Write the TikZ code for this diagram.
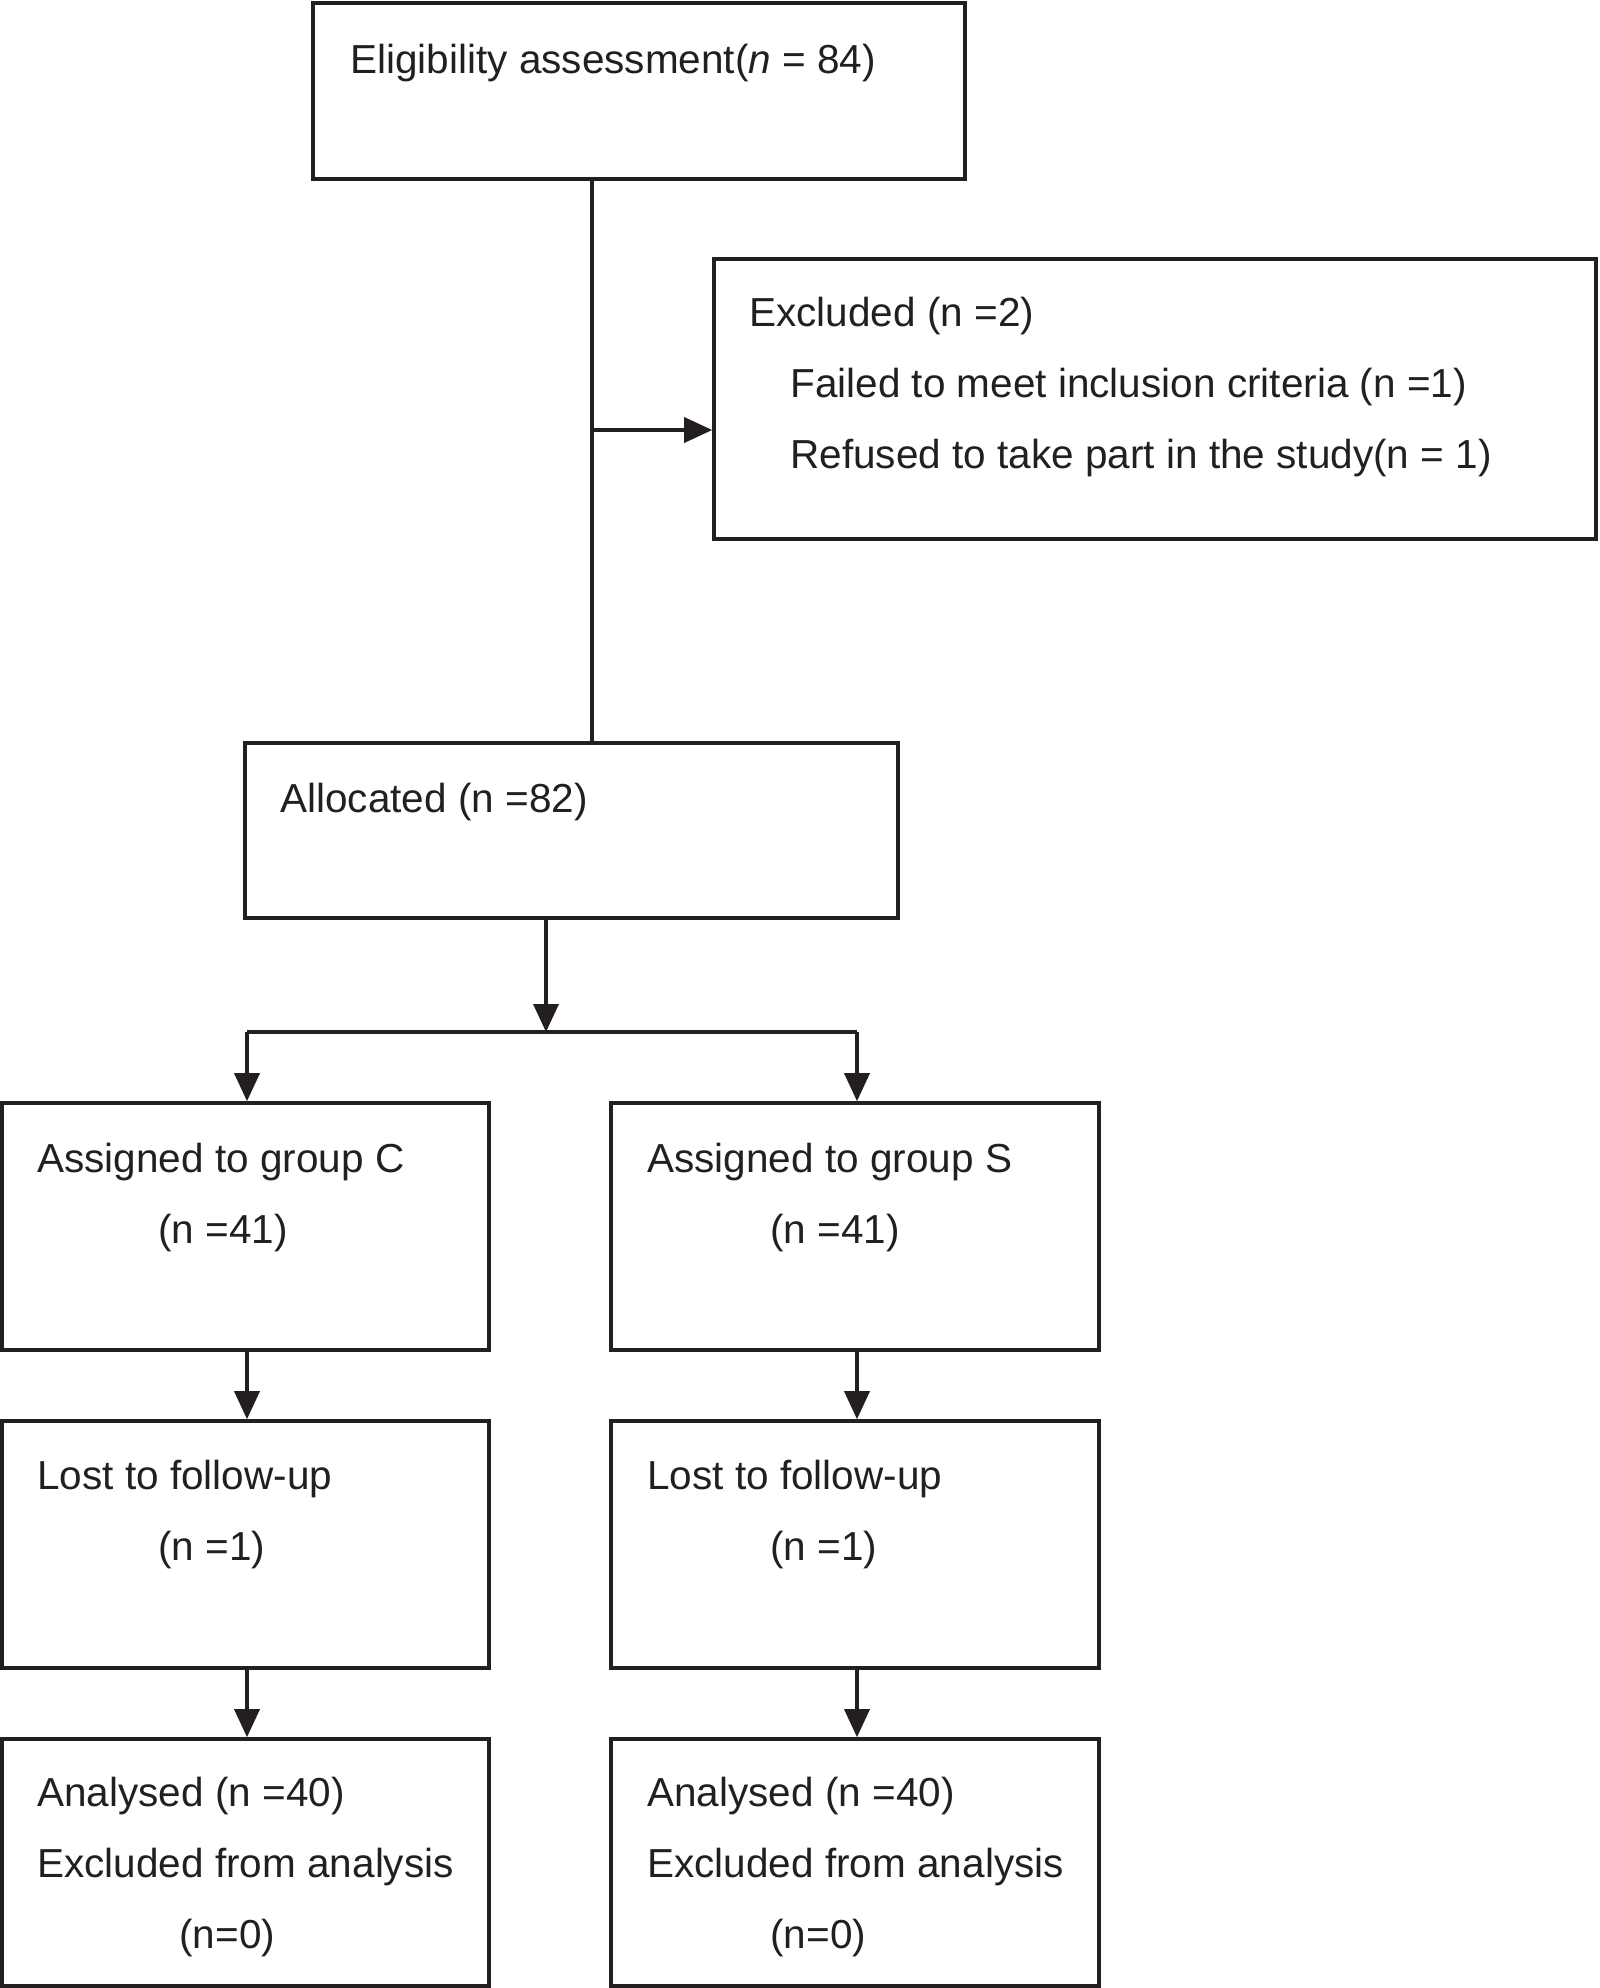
\documentclass[tikz,border=0pt]{standalone}
\usepackage{fontspec}
\setmainfont{Liberation Sans}
\usetikzlibrary{arrows.meta,fit}
\definecolor{ink}{RGB}{35,31,32}
\begin{document}
\begin{tikzpicture}[x=0.5pt,y=-0.5pt,
 box/.style={draw=ink, line width=1.8pt, inner sep=0pt, fit={#1}},
 txt/.style={anchor=base west, inner sep=0pt, font=\fontsize{20.25}{24}\selectfont, text=ink},
 conn/.style={draw=ink, line width=1.8pt},
 arr/.style={conn, -{Triangle[length=14pt,width=12.5pt]}}]
\useasboundingbox (0,0) rectangle (1600,1988);

% boxes
\node[box={(313,3) (965,179)}] (top) {};
\node[box={(714,259) (1596,539)}] (excl) {};
\node[box={(245,743) (898,918)}] (alloc) {};
\node[box={(2,1103) (489,1350)}] (gC) {};
\node[box={(611,1103) (1099,1350)}] (gS) {};
\node[box={(2,1421) (489,1668)}] (lC) {};
\node[box={(611,1421) (1099,1668)}] (lS) {};
\node[box={(2,1739) (489,1986)}] (aC) {};
\node[box={(611,1739) (1099,1986)}] (aS) {};

% texts
\node[txt] (t1) at (350,73) {Eligibility assessment(\textit{n} = 84)};
\node[txt] (t2) at (749,326) {Excluded (n =2)};
\node[txt] (t3) at (790,397) {Failed to meet inclusion criteria (n =1)};
\node[txt] (t4) at (790,468) {Refused to take part in the study(n = 1)};
\node[txt] (t5) at (280,812) {Allocated (n =82)};
\node[txt] (t6) at (37,1172) {Assigned to group C};
\node[txt] (t7) at (158,1243) {(n =41)};
\node[txt] (t8) at (647,1172) {Assigned to group S};
\node[txt] (t9) at (770,1243) {(n =41)};
\node[txt] (t10) at (37,1489) {Lost to follow-up};
\node[txt] (t11) at (158,1560) {(n =1)};
\node[txt] (t12) at (647,1489) {Lost to follow-up};
\node[txt] (t13) at (770,1560) {(n =1)};
\node[txt] (t14) at (37,1806) {Analysed (n =40)};
\node[txt] (t15) at (37,1877) {Excluded from analysis};
\node[txt] (t16) at (179,1948) {(n=0)};
\node[txt] (t17) at (647,1806) {Analysed (n =40)};
\node[txt] (t18) at (647,1877) {Excluded from analysis};
\node[txt] (t19) at (770,1948) {(n=0)};

% connectors
\coordinate (tx) at (592,430);
\draw[conn] (tx |- top.south) -- (tx |- alloc.north);
\draw[arr] (tx) -- (excl.west |- tx);

\coordinate (split) at (546,1032);
\coordinate (cL) at (247,1032);
\coordinate (cR) at (857,1032);
\draw[arr] (split |- alloc.south) -- (split);
\draw[conn] (cL) -- (cR);
\draw[arr] (cL) -- (cL |- gC.north);
\draw[arr] (cR) -- (cR |- gS.north);
\draw[arr] (cL |- gC.south) -- (cL |- lC.north);
\draw[arr] (cR |- gS.south) -- (cR |- lS.north);
\draw[arr] (cL |- lC.south) -- (cL |- aC.north);
\draw[arr] (cR |- lS.south) -- (cR |- aS.north);
\end{tikzpicture}
\end{document}
